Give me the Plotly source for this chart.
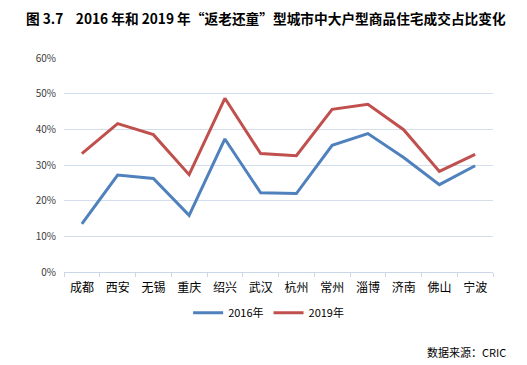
import plotly.graph_objects as go

cities = ["成都", "西安", "无锡", "重庆", "绍兴", "武汉", "杭州", "常州", "淄博", "济南", "佛山", "宁波"]
share_2016 = [0.135, 0.272, 0.262, 0.159, 0.373, 0.222, 0.220, 0.355, 0.388, 0.321, 0.245, 0.298]
share_2019 = [0.332, 0.416, 0.385, 0.273, 0.487, 0.332, 0.326, 0.456, 0.470, 0.399, 0.282, 0.330]
y_ticks = [0, 0.1, 0.2, 0.3, 0.4, 0.5, 0.6]
y_tick_text = ["0%", "10%", "20%", "30%", "40%", "50%", "60%"]

FONT = "Noto Sans CJK SC"
# page body adds an 8px offset; figure sized to fill the remaining window
W, H = 519, 357

fig = go.Figure()
fig.add_trace(go.Scatter(x=cities, y=share_2016, mode="lines", name="2016年",
                         line=dict(color="#4F81BD", width=3)))
fig.add_trace(go.Scatter(x=cities, y=share_2019, mode="lines", name="2019年",
                         line=dict(color="#C0504D", width=3)))

fig.update_layout(
    width=W, height=H,
    margin=dict(l=56, r=34, t=50, b=93, autoexpand=False),
    paper_bgcolor="white", plot_bgcolor="white",
    font=dict(family=FONT, size=11, color="#000000"),
    title=dict(text="<b>图 3.7    2016 年和 2019 年“返老还童”型城市中大户型商品住宅成交占比变化</b>",
               x=18 / W, xref="container", xanchor="left", y=1 - 11 / H, yref="container",
               yanchor="middle",
               font=dict(family=FONT, size=13.7, color="#000000")),
    showlegend=True,
    legend=dict(orientation="h", x=0.477, xanchor="center", y=-0.19, yanchor="middle",
                font=dict(family=FONT, size=11, color="#000000"),
                bgcolor="rgba(0,0,0,0)", itemwidth=30),
    xaxis=dict(type="category", range=[-0.5, 11.5], showgrid=False, showline=True,
               linecolor="#C9D7E9", linewidth=1, automargin=False,
               ticks="outside", tickson="boundaries", ticklen=4, tickcolor="#C9D7E9",
               ticklabelstandoff=5,
               tickfont=dict(family=FONT, size=12, color="#000000"), fixedrange=True),
    yaxis=dict(range=[0, 0.6], tickvals=y_ticks, ticktext=y_tick_text, showgrid=True,
               gridcolor="#D3DEEC", gridwidth=1, zeroline=False, showline=False, automargin=False,
               ticklabelstandoff=7,
               tickfont=dict(family=FONT, size=10, color="#404040"), ticks=""),
    annotations=[dict(text="数据来源：CRIC", xref="paper", yref="paper", x=(500 - 56) / 429,
                      y=-(344 - 264) / 214, xanchor="right", yanchor="middle", showarrow=False,
                      font=dict(family=FONT, size=11, color="#000000"))],
)

fig.write_html("out.html")
